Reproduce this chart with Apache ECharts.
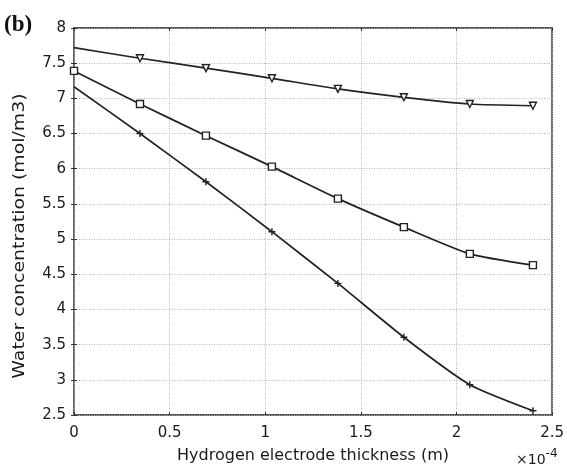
<!DOCTYPE html>
<html>
<head>
<meta charset="utf-8">
<script src="https://cdn.jsdelivr.net/npm/echarts@6/dist/echarts.min.js"></script>
<style>
  html, body { margin: 0; padding: 0; background: #fff; }
  #chart { width: 567px; height: 471px; }
</style>
</head>
<body>
<div id="chart"></div>
<script>
// thickness in units of 1e-4 m
var thickness = [0, 0.345, 0.69, 1.035, 1.38, 1.725, 2.07, 2.4];
var topCurve = [7.72, 7.57, 7.43, 7.285, 7.135, 7.015, 6.92, 6.895];
var midCurve = [7.39, 6.92, 6.47, 6.03, 5.575, 5.17, 4.79, 4.63];
var lowCurve = [7.165, 6.5, 5.815, 5.105, 4.37, 3.605, 2.93, 2.56];
var xTicks = [0, 0.5, 1, 1.5, 2, 2.5];
var yTicks = [2.5, 3, 3.5, 4, 4.5, 5, 5.5, 6, 6.5, 7, 7.5, 8];

var chart = echarts.init(document.getElementById('chart'));

var plusPath = 'path://M4,0h2v4h4v2h-4v4h-2v-4h-4v-2h4z';
var font = 'DejaVu Sans';
var ink = '#222';

function pairs(vals, hideFirst) {
    var out = [];
    for (var i = 0; i < vals.length; i++) {
        var item = { value: [thickness[i], vals[i]] };
        if (hideFirst && i === 0) item.symbolSize = 0;
        out.push(item);
    }
    return out;
}

function lineSeries(name, vals, symbol, size, rotate, hollow, hideFirst) {
    return {
        name: name,
        type: 'line',
        data: pairs(vals, hideFirst),
        smooth: 0.2,
        symbol: symbol,
        symbolSize: size,
        symbolRotate: rotate,
        showAllSymbol: true,
        clip: false,
        lineStyle: { color: ink, width: 1.7 },
        itemStyle: hollow
            ? { color: '#fff', borderColor: ink, borderWidth: 1.4 }
            : { color: ink },
        z: 5
    };
}

var option = {
    backgroundColor: '#fff',
    animation: false,
    grid: {
        left: 74, right: 12, top: 28, bottom: 56,
        show: true, borderColor: '#555', borderWidth: 1.8
    },
    xAxis: [{
        type: 'value',
        min: 0, max: 2.5, interval: 0.5,
        name: 'Hydrogen electrode thickness (m)',
        nameLocation: 'middle',
        nameGap: 33,
        nameTextStyle: { fontFamily: font, fontSize: 16, color: '#1a1a1a' },
        axisLine: { show: false },
        axisTick: { inside: true, length: 3, lineStyle: { color: '#333' } },
        axisLabel: {
            fontFamily: font, fontSize: 15, color: '#1a1a1a', margin: 11,
            formatter: function (v) { return xTicks.indexOf(v) >= 0 ? String(v) : ''; }
        },
        splitLine: { show: true, lineStyle: { color: '#b5b5b5', type: [1, 1.5], width: 1 } }
    }, {
        type: 'value', position: 'top',
        min: 0, max: 2.5, interval: 0.5,
        axisLine: { show: false },
        axisTick: { inside: true, length: 3, lineStyle: { color: '#333' } },
        axisLabel: { show: false },
        splitLine: { show: false }
    }],
    yAxis: [{
        type: 'value',
        min: 2.5, max: 8, interval: 0.5,
        axisLine: { show: false },
        axisTick: { inside: true, length: 3, lineStyle: { color: '#333' } },
        axisLabel: {
            fontFamily: font, fontSize: 15, color: '#1a1a1a', margin: 8,
            formatter: function (v) { return yTicks.indexOf(v) >= 0 ? String(v) : ''; }
        },
        splitLine: { show: true, lineStyle: { color: '#b5b5b5', type: [1, 1.5], width: 1 } }
    }, {
        type: 'value', position: 'right',
        min: 2.5, max: 8, interval: 0.5,
        axisLine: { show: false },
        axisTick: { inside: true, length: 3, lineStyle: { color: '#333' } },
        axisLabel: { show: false },
        splitLine: { show: false }
    }],
    graphic: [{
        type: 'text',
        left: 4, top: 14,
        style: { text: '(b)', fontFamily: 'Liberation Serif', fontWeight: 'bold', fontSize: 23, fill: '#111' }
    }, {
        // y-axis title, stretched along its length like the original figure
        type: 'text',
        x: 20, y: 236,
        rotation: Math.PI / 2,
        scaleX: 1.18,
        style: {
            text: 'Water concentration (mol/m3)',
            fontFamily: font, fontSize: 16, fill: '#1a1a1a',
            align: 'center', verticalAlign: 'middle'
        }
    }, {
        type: 'text',
        left: 516, top: 448,
        style: {
            text: '×10{s|-4}',
            fontFamily: font, fontSize: 14, fill: '#1a1a1a',
            rich: { s: { fontFamily: font, fontSize: 12, verticalAlign: 'top', padding: [0, 0, 12, 0] } }
        }
    }],
    series: [
        lineSeries('top', topCurve, 'triangle', 7, 180, true, true),
        lineSeries('middle', midCurve, 'rect', 7, 0, true, false),
        lineSeries('low', lowCurve, plusPath, 7, 0, false, true)
    ]
};

chart.setOption(option);
</script>
</body>
</html>
